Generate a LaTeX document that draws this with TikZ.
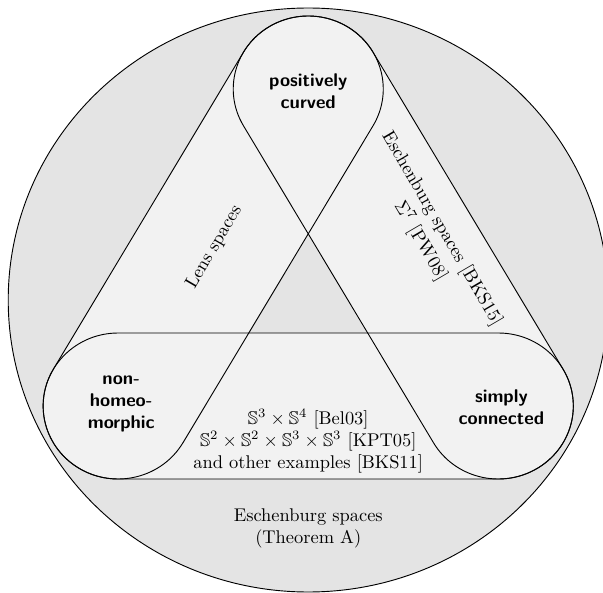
\documentclass[tikz,border=0pt]{standalone}
\usepackage{amssymb}
\definecolor{ringgray}{RGB}{228,228,228}
\definecolor{stadgray}{RGB}{242,242,242}
\begin{document}
\begin{tikzpicture}[x=0.5579pt,y=0.543pt,line width=0.5pt,
  nodelabel/.style={font=\sffamily\bfseries,align=center,inner sep=0pt},
  reftext/.style={align=center,inner sep=0pt}]
\useasboundingbox (0,0) rectangle (586.9,593);
\clip (0,0) rectangle (586.9,593);
% outer disc
\path[fill=ringgray,draw=black] (300,293) circle[radius=292];
% stadium fills
\fill[stadgray] (115,114) -- (485,114) arc[start angle=-90,end angle=90,radius=73]
  -- (115,260) arc[start angle=90,end angle=270,radius=73] -- cycle;
\fill[stadgray] (178.06,150.20) -- (363.06,467.20) arc[start angle=-30.27,end angle=149.73,radius=73]
  -- (51.94,223.80) arc[start angle=149.73,end angle=329.73,radius=73] -- cycle;
\fill[stadgray] (421.94,150.20) arc[start angle=210.27,end angle=390.27,radius=73]
  -- (363.06,540.80) arc[start angle=30.27,end angle=210.27,radius=73] -- cycle;
% stadium outlines
\draw (115,114) -- (485,114) arc[start angle=-90,end angle=90,radius=73]
  -- (115,260) arc[start angle=90,end angle=270,radius=73] -- cycle;
\draw (178.06,150.20) -- (363.06,467.20) arc[start angle=-30.27,end angle=149.73,radius=73]
  -- (51.94,223.80) arc[start angle=149.73,end angle=329.73,radius=73] -- cycle;
\draw (421.94,150.20) arc[start angle=210.27,end angle=390.27,radius=73]
  -- (363.06,540.80) arc[start angle=30.27,end angle=210.27,radius=73] -- cycle;
% labels
\node[nodelabel] (top) at (300,502) {positively\\curved};
\node[nodelabel] (left) at (118,189) {non-\\homeo-\\morphic};
\node[nodelabel] (right) at (488,186) {simply\\connected};
\node[reftext,rotate=59.73] (lens) at (208.5,346) {Lens spaces};
\node[reftext,rotate=-59.73] (esch) at (419.5,358) {Eschenburg spaces [BKS15]\\[1.5pt]$\Sigma^7$ [PW08]};
\node[reftext] (bottom) at (300,152) {$\mathbb{S}^3\times\mathbb{S}^4$ [Bel03]\\
  $\mathbb{S}^2\times\mathbb{S}^2\times\mathbb{S}^3\times\mathbb{S}^3$ [KPT05]\\
  and other examples [BKS11]};
\node[reftext] (thmA) at (300,65) {Eschenburg spaces\\(Theorem A)};
\end{tikzpicture}
\end{document}
